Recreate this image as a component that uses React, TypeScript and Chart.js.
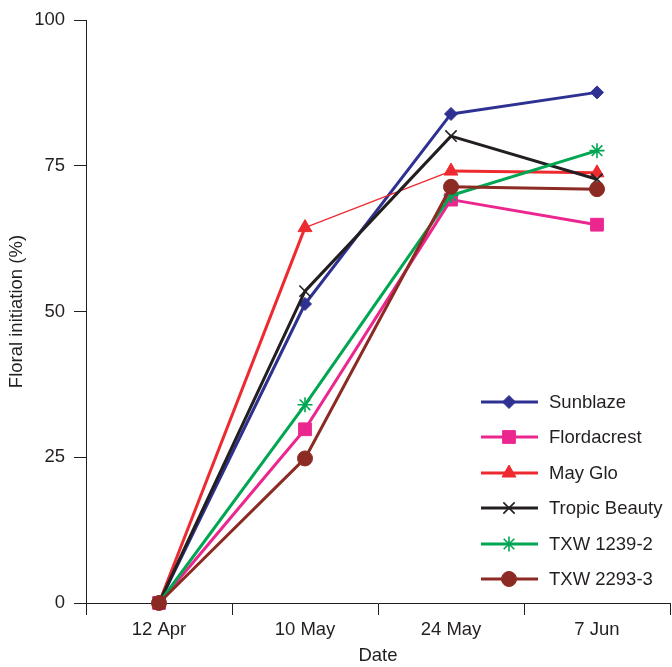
import React, { useEffect, useRef } from "react";
import { Chart, registerables } from "chart.js";
import * as helpers from "chart.js/helpers";

Chart.register(...registerables);

const categories = ["12 Apr", "10 May", "24 May", "7 Jun"];
const seriesNames = ["Sunblaze", "Flordacrest", "May Glo", "Tropic Beauty", "TXW 1239-2", "TXW 2293-3"];
const sunblaze = [0, 51.3, 83.9, 87.6];
const flordacrest = [0, 29.8, 69.2, 64.9];
const mayGlo = [0, 64.4, 74.1, 73.8];
const tropicBeauty = [0, 53.5, 80.1, 72.7];
const txw1239 = [0, 34.0, 69.9, 77.6];
const txw2293 = [0, 24.8, 71.4, 71.0];
const yTicks = [0, 25, 50, 75, 100];

const colors = ["#2E3192", "#EC268F", "#ED2A2F", "#231F20", "#00A651", "#8C2A24"];
const pointStyles = ["rectRot", "rect", "triangle", "crossRot", "star", "circle"];
const pointRadii = [6.5, 9, 8, 8, 7.5, 7.5];
const pointBorders = [1, 1, 1, 1.6, 1.6, 1];

const FONT = "'Liberation Sans', Arial, Helvetica, sans-serif";
const FS = 18.5;
const TEXT = "#231F20";

const legendPlugin = {
  id: "customLegend",
  afterDraw(chart: any) {
    const ctx = chart.ctx;
    const rows = [402, 437, 473, 508, 544, 579];
    ctx.save();
    chart.data.datasets.forEach((ds: any, i: number) => {
      const y = rows[i];
      ctx.strokeStyle = ds.borderColor;
      ctx.lineWidth = 3;
      ctx.beginPath();
      ctx.moveTo(481, y);
      ctx.lineTo(538, y);
      ctx.stroke();
      ctx.fillStyle = ds.pointBackgroundColor;
      ctx.strokeStyle = ds.pointBorderColor;
      ctx.lineWidth = ds.pointBorderWidth;
      helpers.drawPoint(ctx, { pointStyle: ds.pointStyle, radius: ds.pointRadius, borderWidth: ds.pointBorderWidth, rotation: 0 }, 509, y);
      ctx.fillStyle = TEXT;
      ctx.font = `${FS}px ${FONT}`;
      ctx.textBaseline = "middle";
      ctx.textAlign = "left";
      ctx.fillText(ds.label, 549, y + 1);
    });
    ctx.restore();
  },
};

export default function App() {
  const ref = useRef<HTMLCanvasElement>(null);
  useEffect(() => {
    const values = [sunblaze, flordacrest, mayGlo, tropicBeauty, txw1239, txw2293];
    const datasets = values.map((v, i) => ({
      label: seriesNames[i],
      data: v,
      borderColor: colors[i],
      backgroundColor: colors[i],
      pointBackgroundColor: colors[i],
      pointBorderColor: colors[i],
      pointStyle: pointStyles[i],
      pointRadius: pointRadii[i],
      pointBorderWidth: pointBorders[i],
      borderWidth: 3,
      tension: 0,
      clip: false,
      order: values.length - 1 - i,
      segment: i === 2 ? { borderWidth: (c: any) => (c.p0DataIndex === 1 ? 1.2 : 3) } : undefined,
    }));
    const chart = new Chart(ref.current!, {
      type: "line",
      data: { labels: categories, datasets },
      options: {
        responsive: false,
        animation: false,
        layout: { autoPadding: false, padding: { top: 16, right: 2, left: 0, bottom: 0 } },
        plugins: { legend: { display: false }, tooltip: { enabled: false } },
        elements: { line: { borderJoinStyle: "round" } },
        scales: {
          x: {
            type: "category",
            offset: true,
            grid: { display: true, offset: true, drawOnChartArea: false, tickLength: 12, color: TEXT, lineWidth: 1 },
            border: { display: true, color: TEXT, width: 1 },
            ticks: { color: TEXT, font: { family: FONT, size: FS }, padding: 4, maxRotation: 0 },
            title: { display: true, text: "Date", color: TEXT, font: { family: FONT, size: FS }, padding: { top: 2, bottom: 0 } },
            afterFit: (s: any) => { s.height = 64; s.paddingRight = 0; s.paddingLeft = 0; },
          },
          y: {
            type: "linear",
            min: 0,
            max: 100,
            afterBuildTicks: (s: any) => { s.ticks = yTicks.map((v) => ({ value: v })); },
            grid: { display: true, drawOnChartArea: false, tickLength: 12, color: TEXT, lineWidth: 1 },
            border: { display: true, color: TEXT, width: 1 },
            ticks: { color: TEXT, font: { family: FONT, size: FS }, padding: 9 },
            title: { display: true, text: "Floral initiation (%)", color: TEXT, font: { family: FONT, size: FS }, padding: { top: 6, bottom: 0 } },
            afterFit: (s: any) => { s.width = 86; },
          },
        },
      },
      plugins: [legendPlugin],
    });
    return () => chart.destroy();
  }, []);
  return (
    <div style={{ position: "fixed", left: 0, top: 0, width: 672, height: 667, background: "#fff" }}>
      <canvas ref={ref} width={672} height={667} style={{ display: "block" }} />
    </div>
  );
}
